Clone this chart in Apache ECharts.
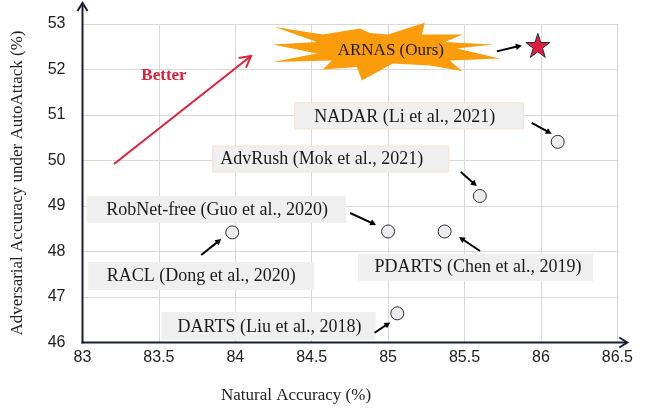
<!DOCTYPE html>
<html>
<head>
<meta charset="utf-8">
<script src="https://cdn.jsdelivr.net/npm/echarts@6/dist/echarts.min.js"></script>
<style>html,body{margin:0;padding:0;background:#fff;}#c{width:645px;height:408px;}</style>
</head>
<body>
<div id="c"></div>
<script>
// ---- data ----
const methods = ['ARNAS (Ours)', 'NADAR (Li et al., 2021)', 'AdvRush (Mok et al., 2021)', 'RobNet-free (Guo et al., 2020)', 'RACL (Dong et al., 2020)', 'PDARTS (Chen et al., 2019)', 'DARTS (Liu et al., 2018)'];
const naturalAcc = [85.98, 86.11, 85.60, 85.00, 83.98, 85.37, 85.06];
const autoAttackAcc = [52.53, 50.41, 49.22, 48.44, 48.42, 48.44, 46.64];
const xTicks = [83, 83.5, 84, 84.5, 85, 85.5, 86, 86.5];
const yTicks = [46, 47, 48, 49, 50, 51, 52, 53];

// ---- layout of annotations (pixel offsets relative to each point) ----
const layout = [
  {burst: true, text: [-147, 5], arrow: [-41, 6, -16, 0]},
  {box: [-263, -39, 229, 26], text: [-153, -25], arrow: [-26, -19, -6, -8], border: '#f6e2cf'},
  {box: [-267, -50, 236, 26], text: [-158, -37], arrow: [-19, -24, -3, -10], border: '#f6e2cf'},
  {box: [-301, -35.5, 259, 27], text: [-171, -21.5], arrow: [-38, -18.5, -12, -6.5]},
  {box: [-144, 29.6, 226, 28], text: [-31, 43.6], arrow: [-31, 22.6, -11, 6.6]},
  {box: [-86.6, 22.5, 235, 27], text: [33.4, 35.5], arrow: [35.4, 19.5, 14.4, 5.5]},
  {box: [-235.7, -1.3, 214, 28], text: [-127.7, 13.7], arrow: [-22.7, 19.4, -7, 9]}
];
const burstPts = [[-116,-23.3],[-68,-16],[-31,-22],[-21,-17.3],[-3,-16],[34,-27.7],[31,-16],[72,-16],[54,-8.3],[102,-6],[66,-2],[109,8],[59,10],[71,20.7],[39,15],[2,13],[-29,30],[-34,16.7],[-68,19],[-59,10],[-118,11.7],[-74,3],[-118,-6],[-74,-8.3]];

const starPath = 'path://M50,0 L61.8,35.3 L98.9,35.3 L68.9,57.2 L80.3,92.7 L50,70.9 L19.7,92.7 L31.1,57.2 L1.1,35.3 L38.2,35.3 Z';

const chart = echarts.init(document.getElementById('c'), null, {renderer: 'canvas'});
const serif = '"Liberation Serif", "Times New Roman", serif';
const sans = '"Liberation Sans", Arial, sans-serif';

chart.setOption({
  animation: false,
  grid: {left: 82.5, right: 27.7, top: 24, bottom: 65.5, containLabel: false},
  xAxis: {
    type: 'value', min: xTicks[0], max: xTicks[xTicks.length - 1], interval: 0.5,
    axisLine: {show: false}, axisTick: {show: false},
    splitLine: {show: true, lineStyle: {color: '#d9d9d9', width: 1}},
    axisLabel: {margin: 7, fontSize: 16, fontFamily: sans, color: '#222', formatter: v => String(v)}
  },
  yAxis: {
    type: 'value', min: yTicks[0], max: yTicks[yTicks.length - 1], interval: 1,
    axisLine: {show: false}, axisTick: {show: false},
    splitLine: {show: true, lineStyle: {color: '#d9d9d9', width: 1}},
    axisLabel: {margin: 17, fontSize: 16, fontFamily: sans, color: '#222'}
  },
  series: [
    {
      type: 'scatter', z: 5,
      data: methods.map((m, i) => i === 0 ? null : [naturalAcc[i], autoAttackAcc[i]]).filter(d => d),
      symbol: 'circle', symbolSize: 13,
      itemStyle: {color: '#ececec', borderColor: '#2b2b3a', borderWidth: 1, opacity: 1}
    },
    {
      type: 'scatter', z: 6,
      data: [[naturalAcc[0], autoAttackAcc[0]]],
      symbol: starPath, symbolSize: 24,
      itemStyle: {color: '#e11d3c', borderColor: '#2b2b3a', borderWidth: 1, opacity: 1}
    }
  ]
});

function arrowEls(x1, y1, x2, y2, color, lw, hl, hw, open) {
  const dx = x2 - x1, dy = y2 - y1, L = Math.hypot(dx, dy);
  const ux = dx / L, uy = dy / L, px = -uy, py = ux;
  const bx = x2 - ux * hl, by = y2 - uy * hl;
  const els = [];
  if (open) {
    els.push({type: 'line', z: 20, shape: {x1, y1, x2, y2}, style: {stroke: color, lineWidth: lw}});
    els.push({type: 'polyline', z: 20, shape: {points: [[bx + px * hw, by + py * hw], [x2, y2], [bx - px * hw, by - py * hw]]}, style: {stroke: color, lineWidth: lw, fill: null}});
  } else {
    els.push({type: 'line', z: 20, shape: {x1, y1, x2: bx + ux, y2: by + uy}, style: {stroke: color, lineWidth: lw}});
    els.push({type: 'polygon', z: 20, shape: {points: [[bx + px * hw, by + py * hw], [x2, y2], [bx - px * hw, by - py * hw]]}, style: {fill: color}});
  }
  return els;
}

const g = [];
const origin = chart.convertToPixel({gridIndex: 0}, [xTicks[0], yTicks[0]]);
const topLeft = chart.convertToPixel({gridIndex: 0}, [xTicks[0], yTicks[yTicks.length - 1]]);
const botRight = chart.convertToPixel({gridIndex: 0}, [xTicks[xTicks.length - 1], yTicks[0]]);
const axisColor = '#1c1c33';
g.push(...arrowEls(origin[0], origin[1] + 1, topLeft[0], topLeft[1] - 21, axisColor, 2, 8, 5, true));
g.push(...arrowEls(origin[0] - 1, origin[1], botRight[0] + 10, botRight[1], axisColor, 2, 8, 5, true));

methods.forEach((m, i) => {
  const p = chart.convertToPixel({gridIndex: 0}, [naturalAcc[i], autoAttackAcc[i]]);
  const L = layout[i];
  const tx = p[0] + L.text[0], ty = p[1] + L.text[1];
  if (L.burst) {
    g.push({type: 'polygon', z: 10, shape: {points: burstPts.map(q => [tx + q[0], ty + q[1]])}, style: {fill: '#fb9d0a'}});
  } else {
    g.push({type: 'rect', z: 10, shape: {x: p[0] + L.box[0], y: p[1] + L.box[1], width: L.box[2], height: L.box[3]},
      style: {fill: '#efefef', stroke: L.border || null, lineWidth: L.border ? 1 : 0}});
  }
  g.push({type: 'text', z: 11, style: {text: m, x: tx, y: ty, align: 'center', verticalAlign: 'middle',
    font: (L.burst ? '17px ' : '18px ') + serif, fill: '#1a1a1a'}});
  const a = L.arrow;
  g.push(...arrowEls(p[0] + a[0], p[1] + a[1], p[0] + a[2], p[1] + a[3], '#000', 2, 6, 3.2, false));
});

// "Better" arrow
g.push(...arrowEls(114, 164, 251, 56, '#e0203a', 2, 11, 6, true));
g.push({type: 'text', z: 11, style: {text: 'Better', x: 164, y: 76, align: 'center', verticalAlign: 'middle', font: 'bold 17px ' + serif, fill: '#e0203a'}});

// axis names
g.push({type: 'text', z: 11, style: {text: 'Natural Accuracy (%)', x: 296, y: 396, align: 'center', verticalAlign: 'middle', font: '17px ' + serif, fill: '#222'}});
g.push({type: 'text', z: 11, x: 18, y: 183, rotation: Math.PI / 2, style: {text: 'Adversarial Accuracy under AutoAttack (%)', x: 0, y: 0, align: 'center', verticalAlign: 'middle', font: '17px ' + serif, fill: '#222'}});

chart.setOption({graphic: g});
</script>
</body>
</html>
